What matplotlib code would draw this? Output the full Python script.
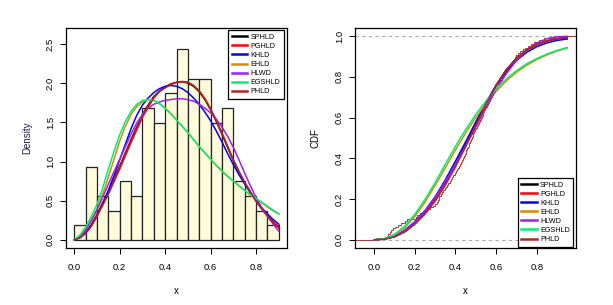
import numpy as np
import matplotlib
matplotlib.use("Agg")
import matplotlib.pyplot as plt

plt.rcParams['font.family'] = ['Liberation Sans', 'DejaVu Sans']

# -----------------------------
# Data
# -----------------------------

# sample values (107 obs), placed to match the histogram and the ECDF steps
sample = [
    0.017,
    0.062, 0.068, 0.078, 0.085, 0.093,
    0.105, 0.118, 0.132,
    0.152, 0.165,
    0.205, 0.214, 0.228, 0.243,
    0.262, 0.276, 0.291,
    0.302, 0.308, 0.313, 0.318, 0.322, 0.329, 0.335, 0.341, 0.347,
    0.354, 0.359, 0.366, 0.372, 0.378, 0.385, 0.391, 0.397,
    0.403, 0.408, 0.412, 0.417, 0.421, 0.426, 0.431, 0.437, 0.442, 0.447,
    0.451, 0.454, 0.458, 0.462, 0.465, 0.469, 0.473, 0.477, 0.481, 0.485,
    0.489, 0.493, 0.497,
    0.503, 0.507, 0.512, 0.516, 0.521, 0.525, 0.529, 0.534, 0.538, 0.543, 0.547,
    0.552, 0.556, 0.561, 0.565, 0.569, 0.574, 0.578, 0.583, 0.587, 0.592, 0.596,
    0.604, 0.610, 0.616, 0.622, 0.628, 0.634, 0.640, 0.646,
    0.653, 0.658, 0.664, 0.669, 0.675, 0.680, 0.686, 0.691, 0.697,
    0.706, 0.718, 0.731, 0.744,
    0.758, 0.772, 0.788,
    0.812, 0.836,
    0.883,
]

models = ["SPHLD", "PGHLD", "KHLD", "EHLD", "HLWD", "EGSHLD", "PHLD"]
colors = ["black", "red", "blue", "#D98A00", "#A020F0", "#00EE76", "#A52A2A"]

# fitted densities at x = 0, 0.025, ..., 0.9
pdf_x = [0.000, 0.025, 0.050, 0.075, 0.100, 0.125, 0.150, 0.175, 0.200, 0.225,
         0.250, 0.275, 0.300, 0.325, 0.350, 0.375, 0.400, 0.425, 0.450, 0.475,
         0.500, 0.525, 0.550, 0.575, 0.600, 0.625, 0.650, 0.675, 0.700, 0.725,
         0.750, 0.775, 0.800, 0.825, 0.850, 0.875, 0.900]
pdf_sphld = [0, .03, .09, .19, .32, .47, .62, .78, .94, 1.11,
             1.28, 1.44, 1.60, 1.72, 1.83, 1.90, 1.95, 1.99, 2.01, 2.02,
             2.00, 1.96, 1.89, 1.79, 1.66, 1.51, 1.35, 1.18, 1.01, .86,
             .73, .61, .50, .40, .31, .23, .16]
pdf_pghld = [0, .03, .09, .18, .31, .46, .61, .77, .93, 1.10,
             1.27, 1.43, 1.59, 1.71, 1.82, 1.90, 1.95, 1.99, 2.01, 2.02,
             2.01, 1.97, 1.90, 1.80, 1.67, 1.52, 1.36, 1.19, 1.02, .87,
             .73, .61, .50, .40, .31, .23, .16]
pdf_khld = [0, .03, .09, .18, .30, .45, .63, .82, 1.02, 1.22,
            1.42, 1.59, 1.72, 1.81, 1.88, 1.93, 1.96, 1.97, 1.96, 1.93,
            1.88, 1.81, 1.73, 1.63, 1.52, 1.39, 1.25, 1.10, .96, .83,
            .71, .60, .50, .41, .33, .26, .20]
pdf_ehld = [0, .05, .14, .26, .39, .58, .80, 1.03, 1.26, 1.45,
            1.60, 1.70, 1.76, 1.79, 1.78, 1.74, 1.68, 1.61, 1.53, 1.45,
            1.37, 1.28, 1.19, 1.11, 1.03, .95, .88, .81, .75, .69,
            .63, .57, .52, .47, .42, .37, .33]
pdf_hlwd = [0, .04, .12, .24, .38, .54, .71, .87, 1.03, 1.19,
            1.35, 1.49, 1.60, 1.68, 1.73, 1.76, 1.78, 1.79, 1.80, 1.80,
            1.79, 1.77, 1.73, 1.68, 1.62, 1.54, 1.44, 1.32, 1.18, 1.02,
            .85, .69, .54, .41, .30, .20, .11]
pdf_egshld = [0, .06, .16, .30, .45, .66, .90, 1.13, 1.34, 1.51,
              1.64, 1.73, 1.78, 1.79, 1.78, 1.74, 1.68, 1.61, 1.53, 1.45,
              1.37, 1.28, 1.19, 1.11, 1.03, .95, .88, .81, .75, .69,
              .63, .58, .53, .48, .43, .38, .33]
pdf_phld = [0, .025, .08, .17, .30, .44, .58, .74, .90, 1.07,
            1.24, 1.40, 1.56, 1.69, 1.81, 1.89, 1.94, 1.98, 2.01, 2.02,
            2.01, 1.97, 1.90, 1.80, 1.67, 1.52, 1.36, 1.19, 1.02, .87,
            .73, .61, .49, .39, .30, .22, .15]

# fitted CDFs at x = 0, 0.05, ..., 0.95
cdf_x = [0.00, 0.05, 0.10, 0.15, 0.20, 0.25, 0.30, 0.35, 0.40, 0.45,
         0.50, 0.55, 0.60, 0.65, 0.70, 0.75, 0.80, 0.85, 0.90, 0.95]
cdf_sphld = [0, .004, .016, .042, .082, .135, .200, .278, .368, .466,
             .567, .667, .758, .834, .890, .930, .958, .976, .987, .993]
cdf_pghld = [0, .004, .015, .040, .080, .132, .197, .275, .365, .464,
             .566, .667, .758, .834, .890, .931, .959, .977, .988, .994]
cdf_khld = [0, .004, .017, .046, .088, .142, .210, .293, .385, .480,
            .578, .672, .757, .826, .880, .920, .948, .967, .979, .986]
cdf_ehld = [0, .005, .022, .058, .113, .183, .265, .352, .440, .523,
            .600, .668, .728, .780, .822, .857, .885, .908, .927, .942]
cdf_hlwd = [0, .004, .017, .044, .086, .140, .206, .285, .368, .458,
            .552, .648, .737, .815, .880, .930, .966, .988, .997, .999]
cdf_egshld = [0, .006, .026, .066, .124, .197, .280, .370, .458, .540,
              .615, .681, .740, .790, .830, .864, .890, .912, .930, .944]
cdf_phld = [0, .003, .014, .037, .075, .125, .188, .266, .356, .456,
            .560, .663, .757, .834, .891, .932, .960, .978, .989, .995]

pdfs = [pdf_sphld, pdf_pghld, pdf_khld, pdf_ehld, pdf_hlwd, pdf_egshld, pdf_phld]
cdfs = [cdf_sphld, cdf_pghld, cdf_khld, cdf_ehld, cdf_hlwd, cdf_egshld, cdf_phld]

bin_edges = np.linspace(0, 0.9, 19)

# -----------------------------
# Figure
# -----------------------------

fig = plt.figure(figsize=(6.13, 3.05), dpi=100)
ax1 = fig.add_axes([0.1077, 0.1869, 0.3605, 0.7213])
ax2 = fig.add_axes([0.5791, 0.1869, 0.3605, 0.7213])

tick_kw = dict(labelsize=6.8, length=4, width=0.7, direction="out")

# left: histogram + densities
ax1.hist(sample, bins=bin_edges, density=True, facecolor="#FFFCDC",
         edgecolor="#222222", linewidth=0.9)
for name, col, yv in zip(models, colors, pdfs):
    ax1.plot(pdf_x, yv, color=col, lw=1.1, label=name, solid_joinstyle="round")
ax1.set_xlim(-0.036, 0.936)
ax1.set_ylim(-0.104, 2.704)
ax1.set_xticks([0, 0.2, 0.4, 0.6, 0.8])
ax1.set_xticklabels(["0.0", "0.2", "0.4", "0.6", "0.8"])
ax1.set_yticks([0, 0.5, 1.0, 1.5, 2.0, 2.5])
ax1.set_yticklabels(["0.0", "0.5", "1.0", "1.5", "2.0", "2.5"], rotation=90, va="center")
ax1.tick_params(axis="x", pad=7, **tick_kw)
ax1.tick_params(axis="y", pad=4, **tick_kw)
ax1.set_xlabel("x", fontsize=7, labelpad=10)
ax1.set_ylabel("Density", fontsize=7, labelpad=10, color="#1a1a4a")

leg1 = ax1.legend(loc="upper right", bbox_to_anchor=(0.985, 0.99), fontsize=5.2,
                  frameon=True, fancybox=False, edgecolor="black", framealpha=1,
                  handlelength=2.2, handletextpad=0.4, labelspacing=0.28,
                  borderpad=0.5, borderaxespad=0)
leg1.get_frame().set_linewidth(0.9)
for ln in leg1.get_lines():
    ln.set_linewidth(1.8)

# right: ECDF + fitted CDFs
ax2.axhline(0, color="#AAAAAA", lw=0.8, ls=(0, (3, 3)))
ax2.axhline(1, color="#AAAAAA", lw=0.8, ls=(0, (3, 3)))
xs = np.sort(sample)
n = len(xs)
ex = np.concatenate([[-0.2], xs, [1.2]])
ey = np.concatenate([[0], np.arange(1, n + 1) / n, [1]])
ax2.step(ex, ey, where="post", color="#B03A3A", lw=0.7)
for name, col, yv in zip(models, colors, cdfs):
    ax2.plot(cdf_x, yv, color=col, lw=1.1, label=name, solid_joinstyle="round")
ax2.set_xlim(-0.093, 0.993)
ax2.set_ylim(-0.04, 1.04)
ax2.set_xticks([0, 0.2, 0.4, 0.6, 0.8])
ax2.set_xticklabels(["0.0", "0.2", "0.4", "0.6", "0.8"])
ax2.set_yticks([0, 0.2, 0.4, 0.6, 0.8, 1.0])
ax2.set_yticklabels(["0.0", "0.2", "0.4", "0.6", "0.8", "1.0"], rotation=90, va="center")
ax2.tick_params(axis="x", pad=7, **tick_kw)
ax2.tick_params(axis="y", pad=4, **tick_kw)
ax2.set_xlabel("x", fontsize=7, labelpad=10)
ax2.set_ylabel("CDF", fontsize=7, labelpad=10)

leg2 = ax2.legend(loc="lower right", bbox_to_anchor=(0.988, 0.006), fontsize=5.2,
                  frameon=True, fancybox=False, edgecolor="black", framealpha=1,
                  handlelength=2.2, handletextpad=0.4, labelspacing=0.28,
                  borderpad=0.5, borderaxespad=0)
leg2.get_frame().set_linewidth(0.9)
for ln in leg2.get_lines():
    ln.set_linewidth(1.8)

for ax in (ax1, ax2):
    for sp in ax.spines.values():
        sp.set_linewidth(0.9)

fig.savefig("out.png", dpi=100)
